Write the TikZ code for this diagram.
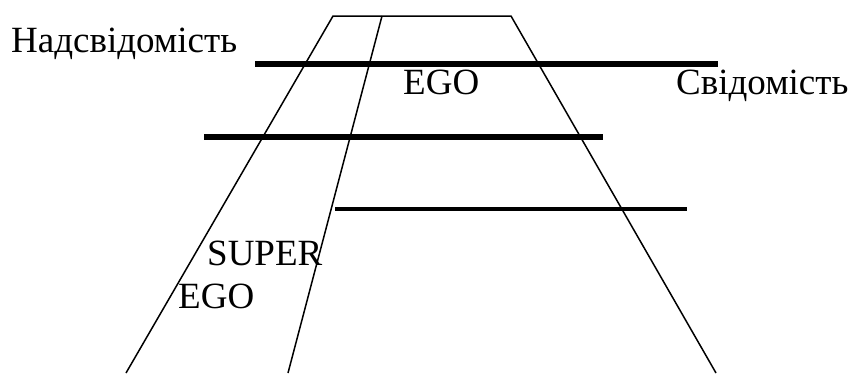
\documentclass[tikz,border=0pt]{standalone}
\usepackage{fontspec}
\setmainfont{Liberation Serif}
\begin{document}
\begin{tikzpicture}[x=1pt,y=-1pt,
    slantLine/.style={line width=1.5pt},
    levelLine/.style={line width=6.5pt},
    thinLevel/.style={line width=4pt},
    psyText/.style={inner sep=0pt,anchor=base west,font=\fontsize{37}{40}\selectfont},
]
\useasboundingbox (0,0) rectangle (851,373);
% Trapezium corners
\coordinate (topL) at (333,16);
\coordinate (topM) at (382,16);
\coordinate (topR) at (511,16);
\coordinate (botL) at (126,373);
\coordinate (botM) at (288,373);
\coordinate (botR) at (716,373);
\draw[slantLine] (botL) -- (topL) -- (topR) -- (botR);
\draw[slantLine] (topM) -- (botM);
% Levels
\coordinate (lvA1) at (255,64);  \coordinate (lvA2) at (718,64);
\coordinate (lvB1) at (204,137); \coordinate (lvB2) at (603,137);
\coordinate (lvC1) at (335,209); \coordinate (lvC2) at (687,209);
\draw[levelLine] (lvA1) -- (lvA2);
\draw[levelLine] (lvB1) -- (lvB2);
\draw[thinLevel] (lvC1) -- (lvC2);
% Labels
\node[psyText] (supraconsc) at (11,52) {Надсвідомість};
\node[psyText] (egoTop) at (403,94) {EGO};
\node[psyText] (consc) at (676,94) {Свідомість};
\node[psyText] (superTxt) at (207,265) {SUPER};
\node[psyText] (egoLow) at (178,308) {EGO};
\end{tikzpicture}
\end{document}
